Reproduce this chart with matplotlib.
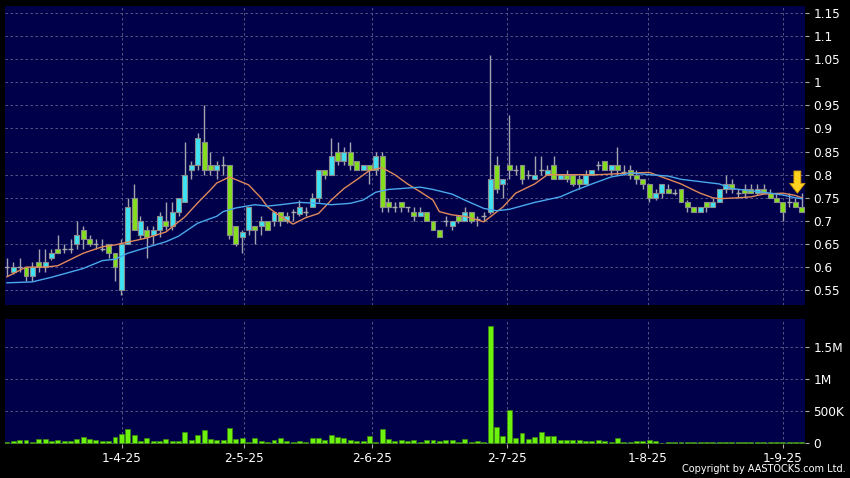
import numpy as np
import matplotlib.pyplot as plt

# daily candles
opens = [0.60, 0.59, 0.60, 0.60, 0.58, 0.61, 0.60, 0.62, 0.64, 0.64,
         0.64, 0.65, 0.68, 0.66, 0.65, 0.64, 0.65, 0.63, 0.55, 0.65,
         0.75, 0.67, 0.68, 0.67, 0.68, 0.70, 0.69, 0.72, 0.74, 0.81,
         0.82, 0.87, 0.82, 0.81, 0.82, 0.82, 0.69, 0.665, 0.68, 0.69,
         0.69, 0.70, 0.70, 0.72, 0.70, 0.72, 0.715, 0.72, 0.73, 0.75,
         0.81, 0.80, 0.85, 0.83, 0.85, 0.83, 0.81, 0.82, 0.81, 0.84,
         0.74, 0.73, 0.74, 0.73, 0.72, 0.71, 0.72, 0.70, 0.68, 0.70,
         0.69, 0.71, 0.70, 0.72, 0.705, 0.71, 0.72, 0.82, 0.78, 0.82,
         0.81, 0.82, 0.80, 0.79, 0.81, 0.80, 0.82, 0.79, 0.80, 0.80,
         0.79, 0.78, 0.80, 0.82, 0.83, 0.81, 0.82, 0.805, 0.81, 0.80,
         0.79, 0.78, 0.75, 0.76, 0.77, 0.76, 0.77, 0.74, 0.73, 0.72,
         0.74, 0.73, 0.74, 0.77, 0.78, 0.76, 0.77, 0.77, 0.76, 0.77,
         0.76, 0.75, 0.74, 0.74, 0.74, 0.73]
closes = [0.60, 0.60, 0.60, 0.58, 0.60, 0.60, 0.61, 0.63, 0.63, 0.64,
          0.64, 0.67, 0.66, 0.65, 0.65, 0.64, 0.63, 0.60, 0.65, 0.73,
          0.68, 0.70, 0.665, 0.68, 0.71, 0.69, 0.72, 0.75, 0.80, 0.82,
          0.88, 0.81, 0.81, 0.82, 0.82, 0.67, 0.65, 0.675, 0.73, 0.68,
          0.70, 0.68, 0.72, 0.70, 0.71, 0.72, 0.73, 0.72, 0.75, 0.81,
          0.80, 0.84, 0.83, 0.85, 0.82, 0.81, 0.82, 0.81, 0.84, 0.73,
          0.73, 0.73, 0.73, 0.73, 0.71, 0.72, 0.70, 0.68, 0.665, 0.70,
          0.70, 0.70, 0.72, 0.70, 0.705, 0.71, 0.79, 0.77, 0.79, 0.81,
          0.81, 0.79, 0.80, 0.80, 0.81, 0.81, 0.79, 0.80, 0.79, 0.78,
          0.78, 0.80, 0.81, 0.82, 0.81, 0.82, 0.81, 0.805, 0.80, 0.79,
          0.78, 0.75, 0.76, 0.78, 0.76, 0.76, 0.74, 0.73, 0.72, 0.73,
          0.73, 0.74, 0.77, 0.78, 0.77, 0.76, 0.76, 0.76, 0.77, 0.76,
          0.75, 0.74, 0.72, 0.74, 0.73, 0.72]
highs = [0.62, 0.61, 0.62, 0.60, 0.61, 0.64, 0.64, 0.64, 0.67, 0.65,
         0.66, 0.70, 0.69, 0.67, 0.66, 0.66, 0.65, 0.63, 0.66, 0.75,
         0.78, 0.71, 0.69, 0.69, 0.72, 0.74, 0.74, 0.75, 0.87, 0.83,
         0.89, 0.95, 0.85, 0.83, 0.84, 0.82, 0.69, 0.68, 0.73, 0.69,
         0.71, 0.70, 0.72, 0.72, 0.72, 0.725, 0.745, 0.73, 0.76, 0.81,
         0.81, 0.88, 0.87, 0.86, 0.87, 0.83, 0.82, 0.82, 0.85, 0.85,
         0.75, 0.74, 0.74, 0.73, 0.73, 0.73, 0.72, 0.70, 0.68, 0.71,
         0.70, 0.71, 0.73, 0.72, 0.71, 0.72, 1.06, 0.84, 0.79, 0.93,
         0.82, 0.82, 0.81, 0.84, 0.84, 0.82, 0.84, 0.80, 0.81, 0.80,
         0.80, 0.81, 0.81, 0.83, 0.83, 0.82, 0.86, 0.82, 0.82, 0.81,
         0.79, 0.78, 0.77, 0.78, 0.78, 0.77, 0.77, 0.745, 0.73, 0.73,
         0.74, 0.75, 0.77, 0.80, 0.79, 0.77, 0.78, 0.78, 0.78, 0.78,
         0.77, 0.76, 0.74, 0.76, 0.75, 0.76]
lows = [0.58, 0.585, 0.59, 0.57, 0.57, 0.59, 0.59, 0.615, 0.63, 0.63,
        0.63, 0.64, 0.64, 0.645, 0.64, 0.635, 0.62, 0.57, 0.54, 0.65,
        0.68, 0.66, 0.62, 0.65, 0.665, 0.68, 0.68, 0.71, 0.74, 0.79,
        0.81, 0.80, 0.80, 0.79, 0.80, 0.66, 0.645, 0.63, 0.67, 0.65,
        0.67, 0.68, 0.69, 0.69, 0.695, 0.70, 0.71, 0.71, 0.73, 0.74,
        0.79, 0.80, 0.82, 0.82, 0.81, 0.81, 0.81, 0.78, 0.80, 0.72,
        0.72, 0.72, 0.72, 0.72, 0.70, 0.71, 0.70, 0.68, 0.665, 0.69,
        0.68, 0.695, 0.70, 0.695, 0.69, 0.70, 0.715, 0.76, 0.75, 0.79,
        0.80, 0.78, 0.79, 0.79, 0.80, 0.80, 0.79, 0.79, 0.785, 0.775,
        0.77, 0.78, 0.80, 0.81, 0.81, 0.80, 0.80, 0.80, 0.79, 0.78,
        0.77, 0.74, 0.745, 0.75, 0.76, 0.755, 0.74, 0.72, 0.72, 0.72,
        0.72, 0.73, 0.74, 0.76, 0.76, 0.75, 0.75, 0.76, 0.755, 0.76,
        0.75, 0.74, 0.70, 0.73, 0.73, 0.72]
# volume in thousands of shares
volumes = [16, 36, 42, 47, 16, 68, 57, 36, 52, 26, 26, 68, 99, 68, 47, 26, 31, 99, 146, 219,
           130, 36, 78, 36, 36, 68, 36, 36, 172, 52, 120, 208, 68, 42, 52, 240, 68, 78, 16, 78,
           26, 21, 47, 73, 26, 16, 26, 16, 73, 73, 52, 130, 99, 78, 52, 36, 36, 104, 16, 224,
           68, 36, 47, 26, 47, 21, 41, 41, 36, 52, 41, 21, 62, 21, 36, 10, 1830, 244, 114, 518,
           78, 155, 62, 93, 166, 104, 114, 52, 41, 52, 52, 26, 36, 52, 36, 16, 78, 16, 16, 26,
           36, 47, 26, 5, 12, 10, 10, 10, 14, 14, 14, 10, 18, 20, 18, 14, 14, 14, 14, 18,
           24, 14, 24, 14, 10, 24]

# moving averages, read at selected days
ma10_day = [0, 3, 6, 8, 12, 15, 17, 19, 22, 25, 28, 30, 32, 33, 35, 38, 40, 41, 43, 45,
            47, 49, 51, 53, 55, 57, 59, 61, 63, 65, 67, 68, 70, 72, 75, 78, 80, 83, 85, 89,
            93, 96, 101, 104, 106, 109, 111, 112, 115, 117, 119, 122, 124, 125]
ma10_val = [0.579, 0.60, 0.60, 0.603, 0.630, 0.644, 0.648, 0.654, 0.663, 0.676, 0.709, 0.739,
            0.767, 0.782, 0.795, 0.778, 0.749, 0.73, 0.71, 0.693, 0.707, 0.716, 0.745, 0.77,
            0.789, 0.809, 0.815, 0.80, 0.78, 0.763, 0.745, 0.72, 0.713, 0.71, 0.698, 0.73,
            0.76, 0.78, 0.80, 0.80, 0.80, 0.802, 0.805, 0.79, 0.78, 0.76, 0.75, 0.748, 0.75,
            0.752, 0.758, 0.76, 0.755, 0.75]
ma20_day = [0, 4, 7, 12, 15, 17, 19, 25, 27, 30, 33, 34, 36, 39, 41, 43, 46, 49, 51, 54,
            56, 58, 60, 65, 67, 70, 72, 75, 77, 79, 83, 87, 89, 92, 95, 97, 98, 101, 104, 106,
            109, 112, 114, 117, 119, 122, 124, 125]
ma20_val = [0.566, 0.568, 0.578, 0.597, 0.614, 0.617, 0.63, 0.655, 0.667, 0.695, 0.71, 0.72,
            0.728, 0.735, 0.732, 0.735, 0.74, 0.738, 0.735, 0.738, 0.745, 0.762, 0.768, 0.773,
            0.768, 0.758, 0.745, 0.727, 0.722, 0.725, 0.74, 0.752, 0.764, 0.78, 0.795, 0.80,
            0.804, 0.80, 0.797, 0.79, 0.785, 0.78, 0.77, 0.765, 0.762, 0.756, 0.75, 0.748]

date_pos = [18.1, 37.3, 57.4, 78.6, 100.8, 122.0]
date_labels = ['1-4-25', '2-5-25', '2-6-25', '2-7-25', '1-8-25', '1-9-25']
price_ticks = [0.55, 0.6, 0.65, 0.7, 0.75, 0.8, 0.85, 0.9, 0.95, 1.0, 1.05, 1.1, 1.15]
vol_ticks = [0, 500, 1000, 1500]
vol_labels = ['0', '500K', '1M', '1.5M']

o = np.array(opens)
c = np.array(closes)
x = np.arange(len(o))

navy = '#00004a'
cyan = '#3ee2f2'
green = '#84de1c'
grid_kw = dict(color='#62628e', linestyle=(0, (3, 3)), linewidth=0.6)

fig = plt.figure(figsize=(8.5, 4.78), dpi=100, facecolor='black')
ax = fig.add_axes([5/850, 1-305/478, 800/850, 299/478], facecolor=navy)
axv = fig.add_axes([5/850, 1-444/478, 800/850, 125/478], facecolor=navy)

# candles
ax.vlines(x, lows, highs, color='#a4a4b0', linewidth=1, zorder=2)
flat = c == o
body_col = np.where(c > o, cyan, green)
ax.bar(x[~flat], np.abs(c - o)[~flat], bottom=np.minimum(o, c)[~flat], width=0.78,
       color=body_col[~flat], edgecolor='#8c8c8c', linewidth=0.8, zorder=3)
ax.hlines(c[flat], x[flat] - 0.4, x[flat] + 0.4, color='#a8a8a8', linewidth=1, zorder=3)

ax.plot(ma10_day, ma10_val, color='#e0895a', linewidth=1, zorder=4)
ax.plot(ma20_day, ma20_val, color='#4aa8ec', linewidth=1, zorder=4)

ax.annotate('', xy=(124.3, 0.760), xytext=(124.3, 0.808),
            arrowprops=dict(facecolor='#ffd21f', edgecolor='#d49a00', width=5,
                            headwidth=11, headlength=7, linewidth=0.6),
            annotation_clip=False, zorder=6)

ax.set_xlim(-0.3, 125.5)
ax.set_ylim(0.518, 1.165)
ax.set_yticks(price_ticks)
ax.set_yticklabels([f'{t:g}' for t in price_ticks])
ax.set_xticks(date_pos)
ax.set_xticklabels([])
ax.tick_params(axis='x', length=0)
ax.grid(True, **grid_kw)
ax.set_axisbelow(True)

# volume
axv.bar(x, volumes, width=0.78, color='#6cf20c', edgecolor='#3c8a10', linewidth=0.5, zorder=3)
axv.set_xlim(-0.3, 125.5)
axv.set_ylim(-15, 1940)
axv.set_yticks(vol_ticks)
axv.set_yticklabels(vol_labels)
axv.set_xticks(date_pos)
axv.set_xticklabels(date_labels)
axv.grid(True, **grid_kw)
axv.set_axisbelow(True)

for a in (ax, axv):
    a.yaxis.tick_right()
    for s in a.spines.values():
        s.set_visible(False)
    a.tick_params(axis='y', colors='#aaaaaa', labelcolor='white', length=3, width=0.8,
                  pad=3, labelsize=8.7)
axv.tick_params(axis='x', colors='#aaaaaa', labelcolor='white', length=3, width=0.8,
                pad=3, labelsize=8.7)

fig.text(0.995, 0.008, 'Copyright by AASTOCKS.com Ltd.', ha='right', va='bottom',
         color='white', fontsize=7.0)

fig.savefig('out.png', dpi=100, facecolor='black')
